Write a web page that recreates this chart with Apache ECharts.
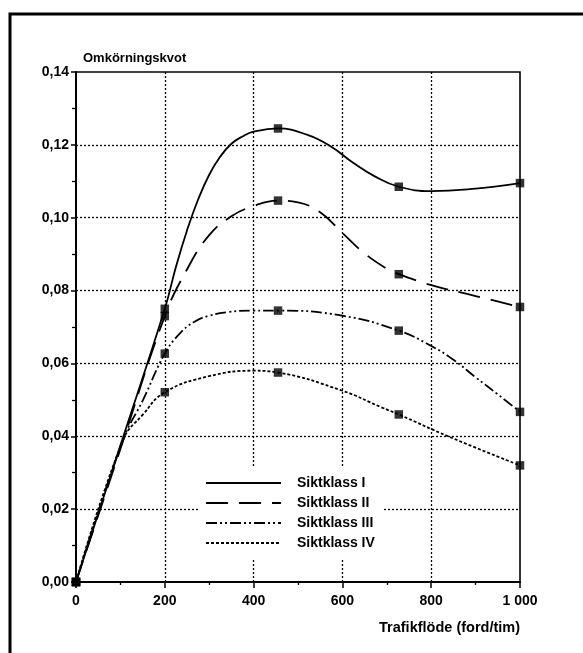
<!DOCTYPE html>
<html>
<head>
<meta charset="utf-8">
<script src="https://cdn.jsdelivr.net/npm/echarts@6/dist/echarts.min.js"></script>
<style>
html,body{margin:0;padding:0;background:#fff;}
#chart{width:583px;height:653px;}
</style>
</head>
<body>
<div id="chart"></div>
<script>
// Measured points (square markers)
const xMarks = [0, 200, 455, 727, 1000];
const sikt1Marks = [0, 0.075, 0.1245, 0.1085, 0.1095];
const sikt2Marks = [0, 0.073, 0.1047, 0.0845, 0.0755];
const sikt3Marks = [0, 0.0627, 0.0745, 0.069, 0.0467];
const sikt4Marks = [0, 0.0521, 0.0575, 0.046, 0.032];

// Points
const sikt1Curve = [[0,0],[100,0.0375],[200,0.075],[225,0.0865],[250,0.0965],[275,0.1050],[300,0.1118],[325,0.1168],[350,0.1203],[375,0.1223],[400,0.1236],[455,0.1245],[520,0.1228],[575,0.1195],[625,0.1150],[675,0.1112],[727,0.1085],[800,0.1073],[900,0.108],[1000,0.1095]];
const sikt2Curve = [[0,0],[100,0.0365],[200,0.073],[250,0.0858],[300,0.0952],[350,0.1004],[400,0.1032],[455,0.1047],[500,0.1042],[550,0.1015],[600,0.0958],[650,0.0902],[700,0.0860],[727,0.0845],[800,0.0815],[900,0.0785],[1000,0.0755]];
const sikt3Curve = [[0,0],[106,0.039],[151,0.050],[200,0.0627],[233,0.0681],[266,0.0714],[300,0.0731],[342,0.0741],[400,0.0745],[455,0.0745],[600,0.0731],[727,0.069],[800,0.0648],[850,0.0610],[900,0.0562],[950,0.0515],[1000,0.0467]];
const sikt4Curve = [[0,0],[106,0.039],[151,0.046],[200,0.0521],[300,0.0565],[400,0.058],[455,0.0575],[600,0.0525],[687,0.048],[727,0.046],[838,0.040],[1000,0.032]];

const seriesNames = ['Siktklass I', 'Siktklass II', 'Siktklass III', 'Siktklass IV'];
const yTicks = [0, 0.02, 0.04, 0.06, 0.08, 0.10, 0.12, 0.14];
const xTickLabels = {0:'0', 200:'200', 400:'400', 600:'600', 800:'800', 1000:'1 000'};

const FONT = '"Liberation Sans", Arial, sans-serif';
const dashes = ['solid', [22, 11], [11, 3, 2, 3, 2, 3], [3, 2]];
const curves = [sikt1Curve, sikt2Curve, sikt3Curve, sikt4Curve];
const marks = [sikt1Marks, sikt2Marks, sikt3Marks, sikt4Marks];

const series = [];
curves.forEach((c, i) => {
  series.push({
    name: seriesNames[i],
    type: 'line',
    data: c,
    smooth: 0.45,
    symbol: 'none',
    showSymbol: false,
    lineStyle: {color: '#000', width: 1.8, type: dashes[i]},
    itemStyle: {color: '#000'},
    z: 3
  });
});
marks.forEach((m, i) => {
  series.push({
    name: 'm' + i,
    type: 'scatter',
    data: xMarks.map((x, j) => [x, m[j]]),
    symbol: 'rect',
    symbolSize: 8.5,
    itemStyle: {color: '#000'},
    z: 4
  });
});

const chart = echarts.init(document.getElementById('chart'), null, {renderer: 'canvas'});
chart.setOption({
  backgroundColor: '#fff',
  animation: false,
  graphic: [{
    type: 'rect',
    shape: {x: 10, y: 14, width: 640, height: 720},
    style: {fill: 'none', stroke: '#000', lineWidth: 3},
    z: 100
  }],
  grid: {
    left: 76, right: 63, top: 72, bottom: 71,
    show: true, borderColor: '#000', borderWidth: 1.6, backgroundColor: 'transparent'
  },
  legend: {
    data: seriesNames,
    orient: 'vertical',
    left: 198, top: 466,
    padding: [10, 8, 8, 7],
    backgroundColor: '#fff',
    itemWidth: 75, itemHeight: 12, itemGap: 6,
    itemStyle: {opacity: 0},
    textStyle: {fontFamily: FONT, fontWeight: 'bold', fontSize: 14, color: '#000', padding: [0, 0, 0, 11]},
    z: 10
  },
  xAxis: {
    type: 'value', min: 0, max: 1000, interval: 200,
    name: 'Trafikflöde (ford/tim)',
    nameLocation: 'end', nameGap: 0,
    nameTextStyle: {fontFamily: FONT, fontWeight: 'bold', fontSize: 14.5, color: '#000', align: 'right', verticalAlign: 'top', padding: [38, 0, 0, 0]},
    axisLine: {show: true, lineStyle: {color: '#000', width: 2}},
    axisTick: {show: true, length: 6, lineStyle: {color: '#000', width: 1.5}},
    minorTick: {show: true, splitNumber: 2, length: 3, lineStyle: {color: '#000', width: 1.3}},
    axisLabel: {fontFamily: FONT, fontWeight: 'bold', fontSize: 14, color: '#000', margin: 12,
      formatter: v => xTickLabels[v] !== undefined ? xTickLabels[v] : ''},
    splitLine: {show: true, showMinLine: false, showMaxLine: false, lineStyle: {color: '#000', width: 1.3, type: [2, 2]}}
  },
  yAxis: {
    type: 'value', min: 0, max: 0.14, interval: 0.02,
    name: 'Omkörningskvot',
    nameLocation: 'end', nameGap: 7,
    nameTextStyle: {fontFamily: FONT, fontWeight: 'bold', fontSize: 13, color: '#000', align: 'left', verticalAlign: 'bottom', padding: [0, 0, 0, 7]},
    axisLine: {show: true, lineStyle: {color: '#000', width: 2}},
    axisTick: {show: true, length: 5, lineStyle: {color: '#000', width: 1.5}},
    minorTick: {show: true, splitNumber: 2, length: 4, lineStyle: {color: '#000', width: 1.3}},
    axisLabel: {fontFamily: FONT, fontWeight: 'bold', fontSize: 14, color: '#000', margin: 7,
      formatter: v => {
        const t = yTicks.find(k => Math.abs(k - v) < 1e-9);
        return t === undefined ? '' : t.toFixed(2).replace('.', ',');
      }},
    splitLine: {show: true, showMinLine: false, showMaxLine: false, lineStyle: {color: '#000', width: 1.3, type: [2, 2]}}
  },
  series: series
});
</script>
</body>
</html>
